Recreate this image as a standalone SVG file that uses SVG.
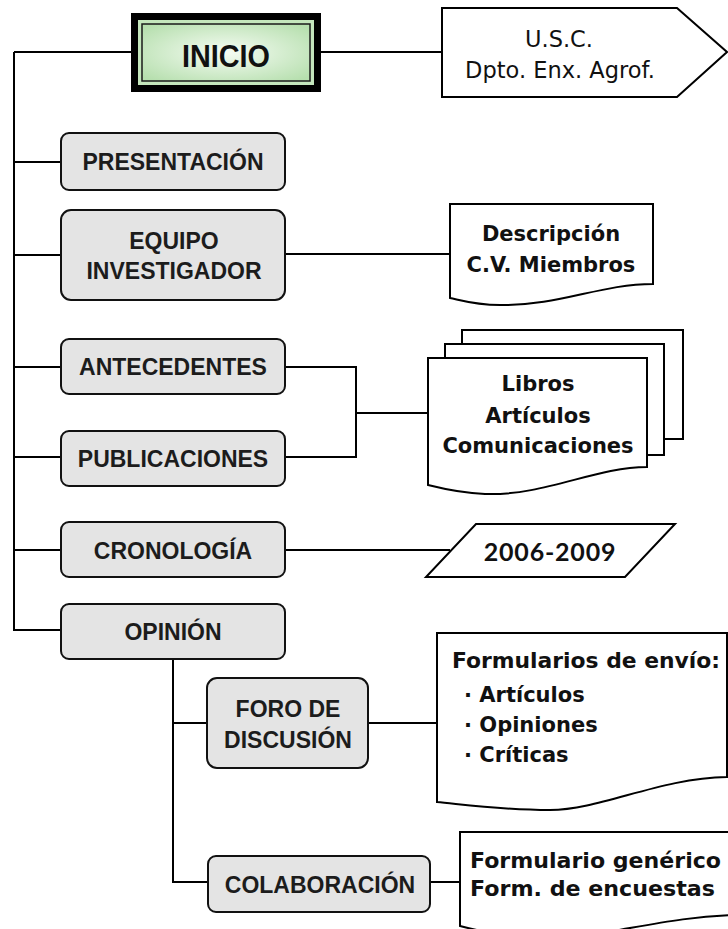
<svg xmlns="http://www.w3.org/2000/svg" width="728" height="929" viewBox="0 0 728 929">
<defs>
<radialGradient id="g" cx="50%" cy="50%" r="65%">
<stop offset="0" stop-color="#f6fcf4"/>
<stop offset="1" stop-color="#b6dfae"/>
</radialGradient>
<style>
.box{fill:#e4e4e4;stroke:#111;stroke-width:2}
.ln{fill:none;stroke:#000;stroke-width:2}
.doc{fill:#fff;stroke:#000;stroke-width:2}
.bt{font-family:"Liberation Sans",Arial,sans-serif;font-weight:bold;font-size:23px;fill:#1c1c1c;text-anchor:middle}
.dt{font-family:"DejaVu Sans",sans-serif;font-weight:bold;font-size:21px;fill:#111;text-anchor:middle}
.dl{font-family:"DejaVu Sans",sans-serif;font-weight:bold;font-size:21px;fill:#111}
.rt{font-family:"DejaVu Sans",sans-serif;font-size:22.5px;fill:#111;text-anchor:middle}
</style>
</defs>
<rect width="728" height="929" fill="#fff"/>
<g id="connectors">
<path class="ln" d="M14,52 H131 M14,52 V630 H61 M14,162 H61 M14,255 H61 M14,367 H61 M14,457 H61 M14,550 H61"/>
<path class="ln" d="M321,52 H442"/>
<path class="ln" d="M285,254 H450"/>
<path class="ln" d="M285,367 H356 V457 H285 M356,413 H428"/>
<path class="ln" d="M285,550 H450"/>
<path class="ln" d="M173,659 V882 H208 M173,723 H207"/>
<path class="ln" d="M368,723 H437"/>
<path class="ln" d="M430,882 H460"/>
</g>
<g id="inicio">
<rect x="131" y="13" width="190" height="79" fill="#000"/>
<rect x="138" y="20" width="176" height="65" fill="#c4e6bc"/>
<rect x="142" y="24" width="168" height="57" fill="url(#g)" stroke="#1a1a1a" stroke-width="1.5"/>
<text x="226" y="67" font-family="Liberation Sans Narrow,Liberation Sans,Arial,sans-serif" font-size="31" font-weight="bold" fill="#111" text-anchor="middle" textLength="88" lengthAdjust="spacingAndGlyphs">INICIO</text>
</g>
<g id="usc">
<path class="doc" d="M442,8 H677 L727,52 L677,97 H442 Z"/>
<text class="rt" x="559" y="47">U.S.C.</text>
<text class="rt" x="560" y="78">Dpto. Enx. Agrof.</text>
</g>
<g id="presentacion">
<rect class="box" x="61" y="133" width="224" height="57" rx="8"/>
<text class="bt" x="173" y="170">PRESENTACIÓN</text>
</g>
<g id="equipo">
<rect class="box" x="61" y="210" width="224" height="90" rx="10"/>
<text class="bt" x="174" y="249">EQUIPO</text>
<text class="bt" x="174" y="279">INVESTIGADOR</text>
</g>
<g id="descripcion">
<path class="doc" d="M450,204 H653 V284 C600,284 560,306 500,305 C475,305 460,300 450,298 Z"/>
<text class="dt" x="551" y="241">Descripción</text>
<text class="dt" x="551" y="272">C.V. Miembros</text>
</g>
<g id="antecedentes">
<rect class="box" x="61" y="339" width="224" height="55" rx="8"/>
<text class="bt" x="173" y="375">ANTECEDENTES</text>
</g>
<g id="publicaciones">
<rect class="box" x="61" y="431" width="224" height="55" rx="8"/>
<text class="bt" x="173" y="467">PUBLICACIONES</text>
</g>
<g id="libros">
<path class="doc" d="M462,344 V330 H683 V439 H664"/>
<path class="doc" d="M445,358 V344 H664 V455 H647"/>
<path class="doc" d="M428,358 H647 V467 C595,467 545,496 485,494 C460,493 440,488 428,485 Z"/>
<text class="dt" x="538" y="391">Libros</text>
<text class="dt" x="538" y="423">Artículos</text>
<text class="dt" x="538" y="453">Comunicaciones</text>
</g>
<g id="cronologia">
<rect class="box" x="61" y="522" width="224" height="55" rx="8"/>
<text class="bt" x="173" y="559">CRONOLOGÍA</text>
</g>
<g id="fechas">
<path class="doc" d="M476,524 H675 L625,577 H426 Z"/>
<text x="550" y="561" font-family="Lato,sans-serif" font-weight="bold" font-size="25" fill="#111" text-anchor="middle" letter-spacing="0.8">2006-2009</text>
</g>
<g id="opinion">
<rect class="box" x="61" y="604" width="224" height="55" rx="8"/>
<text class="bt" x="173" y="640">OPINIÓN</text>
</g>
<g id="foro">
<rect class="box" x="207" y="678" width="161" height="90" rx="10"/>
<text class="bt" x="288" y="717">FORO DE</text>
<text class="bt" x="288" y="748">DISCUSIÓN</text>
</g>
<g id="formularios">
<path class="doc" d="M437,633 H727 V777 C660,778 600,810 550,810 C500,810 460,804 437,802 Z"/>
<text class="dl" x="452" y="668" textLength="268" lengthAdjust="spacingAndGlyphs">Formularios de envío:</text>
<text class="dl" x="464" y="702">· Artículos</text>
<text class="dl" x="464" y="732">· Opiniones</text>
<text class="dl" x="464" y="762">· Críticas</text>
</g>
<g id="colaboracion">
<rect class="box" x="208" y="856" width="222" height="56" rx="8"/>
<text class="bt" x="320" y="893">COLABORACIÓN</text>
</g>
<g id="formgen">
<path class="doc" d="M460,832 H740 V915 C660,916 600,940 540,938 C500,936 475,930 460,926 Z"/>
<text class="dl" x="470" y="868" textLength="251" lengthAdjust="spacingAndGlyphs">Formulario genérico</text>
<text class="dl" x="470" y="896" textLength="245" lengthAdjust="spacingAndGlyphs">Form. de encuestas</text>
</g>
</svg>
